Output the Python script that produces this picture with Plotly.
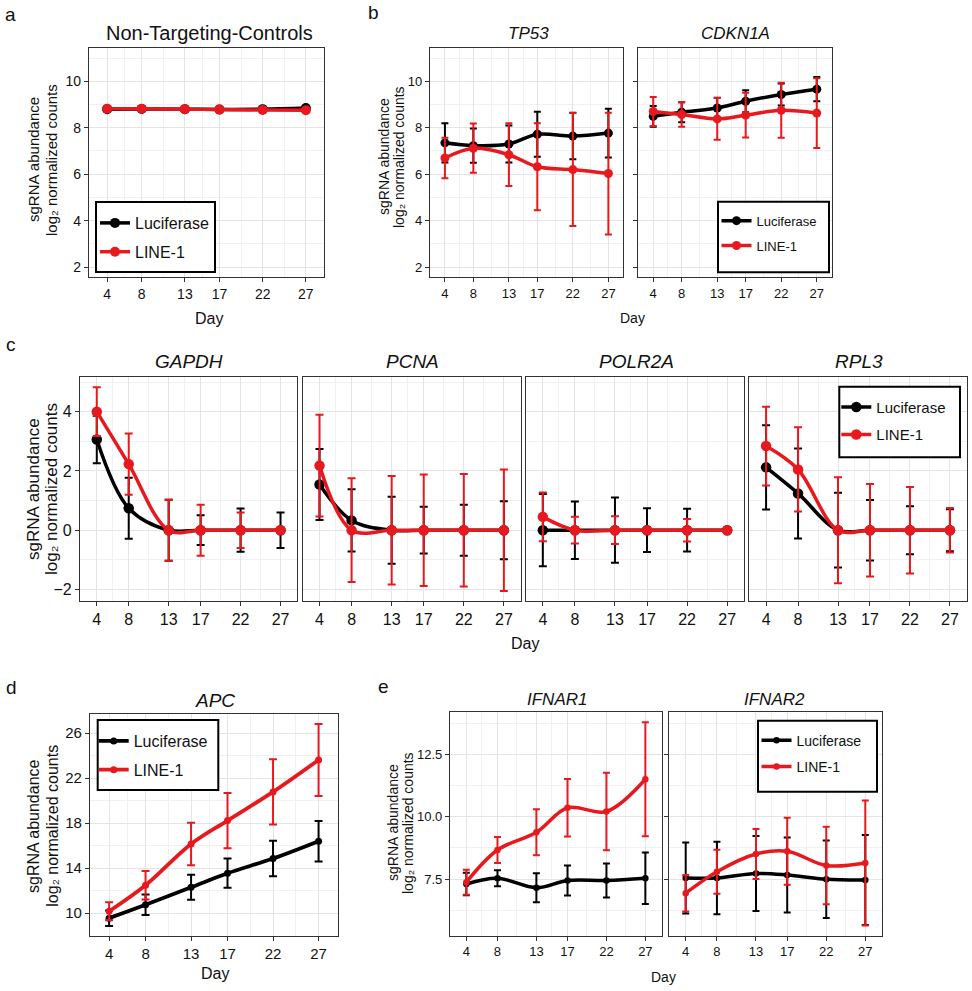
import plotly.graph_objects as go

W, H = 972, 991

# ---------------- data ----------------
days = [4, 8, 13, 17, 22, 27]
day_labels = ["4", "8", "13", "17", "22", "27"]
day_minor = [6, 10.5, 15, 19.5, 24.5]
series_names = ["Luciferase", "LINE-1"]

# a  Non-Targeting-Controls
ntc_luc = [8.80, 8.81, 8.80, 8.79, 8.80, 8.85]
ntc_luc_sd = [0.03, 0.03, 0.03, 0.03, 0.03, 0.03]
ntc_l1 = [8.82, 8.82, 8.80, 8.78, 8.76, 8.75]
ntc_l1_sd = [0.03, 0.03, 0.03, 0.03, 0.03, 0.03]

# b  TP53 / CDKN1A
tp53_luc = [7.35, 7.23, 7.30, 7.72, 7.64, 7.77]
tp53_luc_sd = [0.84, 0.74, 0.80, 0.97, 1.00, 1.05]
tp53_l1 = [6.70, 7.12, 6.84, 6.32, 6.20, 6.03]
tp53_l1_sd = [0.87, 1.06, 1.35, 1.87, 2.43, 2.62]
cdkn1a_luc = [8.49, 8.67, 8.85, 9.14, 9.43, 9.66]
cdkn1a_luc_sd = [0.45, 0.43, 0.44, 0.47, 0.47, 0.52]
cdkn1a_l1 = [8.70, 8.57, 8.38, 8.54, 8.75, 8.63]
cdkn1a_l1_sd = [0.62, 0.53, 0.90, 0.96, 1.18, 1.50]

# c  GAPDH / PCNA / POLR2A / RPL3
gapdh_luc = [3.06, 0.74, 0.0, 0.0, 0.0, 0.0]
gapdh_luc_sd = [0.80, 1.03, 1.03, 0.50, 0.73, 0.60]
gapdh_l1 = [4.00, 2.23, 0.0, 0.0, 0.0, 0.0]
gapdh_l1_sd = [0.82, 1.03, 1.03, 0.86, 0.60, 0.0]
pcna_luc = [1.54, 0.33, 0.0, 0.0, 0.0, 0.0]
pcna_luc_sd = [1.20, 1.05, 1.13, 0.79, 0.86, 0.98]
pcna_l1 = [2.18, 0.0, 0.0, 0.0, 0.0, 0.0]
pcna_l1_sd = [1.72, 1.75, 1.83, 1.88, 1.90, 2.05]
polr2a_luc = [0.0, 0.0, 0.0, 0.0, 0.0, 0.0]
polr2a_luc_sd = [1.22, 0.97, 1.10, 0.74, 0.72, 0.0]
polr2a_l1 = [0.45, 0.0, 0.0, 0.0, 0.0, 0.0]
polr2a_l1_sd = [0.82, 0.45, 0.47, 0.0, 0.38, 0.0]
rpl3_luc = [2.12, 1.24, 0.0, 0.0, 0.0, 0.0]
rpl3_luc_sd = [1.42, 1.52, 1.26, 1.02, 0.81, 0.71]
rpl3_l1 = [2.84, 2.05, 0.0, 0.0, 0.0, 0.0]
rpl3_l1_sd = [1.33, 1.42, 1.79, 1.56, 1.46, 0.75]

# d  APC
apc_luc = [9.56, 10.75, 12.30, 13.55, 14.86, 16.40]
apc_luc_sd = [0.69, 0.92, 1.11, 1.30, 1.58, 1.80]
apc_l1 = [10.17, 12.48, 16.15, 18.23, 20.78, 23.62]
apc_l1_sd = [0.80, 1.26, 1.88, 2.45, 2.90, 3.20]

# e  IFNAR1 / IFNAR2
ifnar1_luc = [7.31, 7.54, 7.16, 7.45, 7.45, 7.54]
ifnar1_luc_sd = [0.45, 0.32, 0.58, 0.60, 0.68, 1.03]
ifnar1_l1 = [7.38, 8.67, 9.38, 10.36, 10.21, 11.50]
ifnar1_l1_sd = [0.50, 0.52, 0.92, 1.15, 1.55, 2.28]
ifnar2_luc = [7.55, 7.55, 7.73, 7.67, 7.50, 7.47]
ifnar2_luc_sd = [1.42, 1.45, 1.50, 1.50, 1.55, 1.80]
ifnar2_l1 = [6.94, 7.80, 8.51, 8.62, 8.05, 8.15]
ifnar2_l1_sd = [0.73, 0.88, 1.00, 1.34, 1.55, 2.50]

# y tick sets
y_ab_ticks = [2, 4, 6, 8, 10]
y_ab_minor = [3, 5, 7, 9, 11]
y_c_ticks = [-2, 0, 2, 4]
y_c_labels = ["\u22122", "0", "2", "4"]
y_c_minor = [-1, 1, 3, 5]
y_d_ticks = [10, 14, 18, 22, 26]
y_d_minor = [12, 16, 20, 24]
y_e_ticks = [7.5, 10.0, 12.5]
y_e_labels = ["7.5", "10.0", "12.5"]
y_e_minor = [6.25, 8.75, 11.25, 13.75]

y_title_1 = "sgRNA abundance"
y_title_2 = "log\u2082 normalized counts"
x_title = "Day"

# ---------------- styling ----------------
BLACK = "#000000"
RED = "#E8191E"
FAM = "Liberation Sans, Arial, Helvetica, sans-serif"
AXC = "#333333"
GRID = "#E4E4E4"
GRID_MINOR = "#F1F1F1"
TXT = "#111111"


def fx(v):
    return v / W


def fy(v):
    return 1 - v / H


panels = [
    dict(title="Non-Targeting-Controls", italic=False, tx=209, ty=33, tfs=20,
         box=(89, 324, 48, 277), yr=[1.58, 11.43], yt=y_ab_ticks, ytl=[str(v) for v in y_ab_ticks],
         ym=y_ab_minor, ylab=True, yticks=True, tick=14,
         data=(ntc_luc, ntc_luc_sd, ntc_l1, ntc_l1_sd), ms=10, lw=3.5, cap=4,
         legend=dict(box=(96, 215, 202, 272), fs=16, dx=-1)),
    dict(title="TP53", italic=True, tx=528, ty=33, tfs=17,
         box=(430, 623.3, 48, 277), yr=[1.58, 11.43], yt=y_ab_ticks, ytl=[str(v) for v in y_ab_ticks],
         ym=y_ab_minor, ylab=True, yticks=True, tick=13,
         data=(tp53_luc, tp53_luc_sd, tp53_l1, tp53_l1_sd), ms=9, lw=3.5, cap=3.5, legend=None),
    dict(title="CDKN1A", italic=True, tx=735, ty=33, tfs=17,
         box=(638.3, 831.7, 48, 277), yr=[1.58, 11.43], yt=y_ab_ticks, ytl=[str(v) for v in y_ab_ticks],
         ym=y_ab_minor, ylab=False, yticks=True, tick=13,
         data=(cdkn1a_luc, cdkn1a_luc_sd, cdkn1a_l1, cdkn1a_l1_sd), ms=9, lw=3.5, cap=3.5,
         legend=dict(box=(718, 829, 201.7, 272.3), fs=13, dx=-1.5)),
    dict(title="GAPDH", italic=True, tx=189, ty=362, tfs=19,
         box=(80, 297.3, 377.3, 600.7), yr=[-2.38, 5.16], yt=y_c_ticks, ytl=y_c_labels,
         ym=y_c_minor, ylab=True, yticks=True, tick=16,
         data=(gapdh_luc, gapdh_luc_sd, gapdh_l1, gapdh_l1_sd), ms=10.5, lw=3.5, cap=4, legend=None),
    dict(title="PCNA", italic=True, tx=412, ty=362, tfs=19,
         box=(302.7, 520.7, 377.3, 600.7), yr=[-2.38, 5.16], yt=y_c_ticks, ytl=y_c_labels,
         ym=y_c_minor, ylab=False, yticks=False, tick=16,
         data=(pcna_luc, pcna_luc_sd, pcna_l1, pcna_l1_sd), ms=10.5, lw=3.5, cap=4, legend=None),
    dict(title="POLR2A", italic=True, tx=636, ty=362, tfs=19,
         box=(526, 744, 377.3, 600.7), yr=[-2.38, 5.16], yt=y_c_ticks, ytl=y_c_labels,
         ym=y_c_minor, ylab=False, yticks=False, tick=16,
         data=(polr2a_luc, polr2a_luc_sd, polr2a_l1, polr2a_l1_sd), ms=10.5, lw=3.5, cap=4, legend=None),
    dict(title="RPL3", italic=True, tx=859, ty=362, tfs=19,
         box=(749.3, 966.7, 377.3, 600.7), yr=[-2.38, 5.16], yt=y_c_ticks, ytl=y_c_labels,
         ym=y_c_minor, ylab=False, yticks=False, tick=16,
         data=(rpl3_luc, rpl3_luc_sd, rpl3_l1, rpl3_l1_sd), ms=10.5, lw=3.5, cap=4,
         legend=dict(box=(839.3, 960, 386.7, 457.3), fs=15, dx=-3)),
    dict(title="APC", italic=True, tx=215, ty=700, tfs=19,
         box=(90, 337.7, 714, 935.7), yr=[8.0, 27.7], yt=y_d_ticks, ytl=[str(v) for v in y_d_ticks],
         ym=y_d_minor, ylab=True, yticks=True, tick=15,
         data=(apc_luc, apc_luc_sd, apc_l1, apc_l1_sd), ms=7, lw=3.8, cap=4,
         legend=dict(box=(97.7, 218.3, 720, 790), fs=16, dx=-4)),
    dict(title="IFNAR1", italic=True, tx=557, ty=699, tfs=17,
         box=(450, 661.7, 712.3, 935.7), yr=[5.24, 14.18], yt=y_e_ticks, ytl=y_e_labels,
         ym=y_e_minor, ylab=True, yticks=True, tick=13,
         data=(ifnar1_luc, ifnar1_luc_sd, ifnar1_l1, ifnar1_l1_sd), ms=6.5, lw=3.5, cap=3.5, legend=None),
    dict(title="IFNAR2", italic=True, tx=774, ty=699, tfs=17,
         box=(669.3, 881.7, 712.3, 935.7), yr=[5.24, 14.18], yt=y_e_ticks, ytl=y_e_labels,
         ym=y_e_minor, ylab=False, yticks=True, tick=13,
         data=(ifnar2_luc, ifnar2_luc_sd, ifnar2_l1, ifnar2_l1_sd), ms=6.5, lw=3.5, cap=3.5,
         legend=dict(box=(758, 877, 720.7, 791.7), fs=14, dx=-1.5)),
]

fig = go.Figure()
layout = dict(width=W, height=H, autosize=False, margin=dict(l=0, r=0, t=0, b=0),
              paper_bgcolor="white", plot_bgcolor="white",
              font=dict(family=FAM, color=TXT))
annotations = []
shapes = []
legend_count = 0

for i, p in enumerate(panels):
    n = i + 1
    xa = "xaxis" if n == 1 else f"xaxis{n}"
    ya = "yaxis" if n == 1 else f"yaxis{n}"
    xr = "x" if n == 1 else f"x{n}"
    yr_ = "y" if n == 1 else f"y{n}"
    x0, x1, y0, y1 = p["box"]
    common = dict(showline=True, mirror=True, linecolor=AXC, linewidth=1.2,
                  showgrid=True, gridcolor=GRID, gridwidth=1.1, zeroline=False,
                  ticks="outside", ticklen=4, tickwidth=1.1, tickcolor=AXC,
                  fixedrange=True, layer="below traces")
    layout[xa] = dict(common, domain=[fx(x0), fx(x1)], range=[1.9, 29.1], anchor=yr_,
                      tickmode="array", tickvals=days, ticktext=day_labels,
                      tickfont=dict(size=p["tick"], family=FAM, color=TXT),
                      minor=dict(tickvals=day_minor, showgrid=True, gridcolor=GRID_MINOR,
                                 gridwidth=0.7, ticks=""))
    ycfg = dict(common, domain=[fy(y1), fy(y0)], range=p["yr"], anchor=xr,
                tickmode="array", tickvals=p["yt"], ticktext=p["ytl"],
                showticklabels=p["ylab"],
                tickfont=dict(size=p["tick"], family=FAM, color=TXT),
                minor=dict(tickvals=p["ym"], showgrid=True, gridcolor=GRID_MINOR,
                           gridwidth=0.7, ticks=""))
    if not p["yticks"]:
        ycfg["ticks"] = ""
    layout[ya] = ycfg

    luc, luc_sd, l1, l1_sd = p["data"]
    lg = p["legend"]
    if lg is not None:
        legend_count += 1
        lname = "legend" if legend_count == 1 else f"legend{legend_count}"
    for name, vals, sd, col in ((series_names[0], luc, luc_sd, BLACK),
                                (series_names[1], l1, l1_sd, RED)):
        tr = go.Scatter(
            x=days, y=vals, name=name, xaxis=xr, yaxis=yr_,
            mode="lines+markers",
            line=dict(color=col, width=p["lw"], shape="spline", smoothing=1.0),
            marker=dict(color=col, size=p["ms"]),
            error_y=dict(type="data", array=sd, visible=True, color=col,
                         thickness=2, width=p["cap"]),
            showlegend=lg is not None, legendgroup=name,
            cliponaxis=False,
        )
        if lg is not None:
            tr.legend = lname
        fig.add_trace(tr)

    if lg is not None:
        bx0, bx1, by0, by1 = lg["box"]
        shapes.append(dict(type="rect", xref="paper", yref="paper",
                           x0=fx(bx0), x1=fx(bx1), y0=fy(by1), y1=fy(by0),
                           line=dict(color="black", width=2), fillcolor="white",
                           layer="above"))
        layout[lname] = dict(x=fx(bx0 + lg["dx"]), y=fy(by0 + 4), xanchor="left", yanchor="top",
                             bgcolor="rgba(0,0,0,0)", borderwidth=0,
                             font=dict(size=lg["fs"], family=FAM, color=TXT),
                             tracegroupgap=5, itemwidth=30, traceorder="grouped")

    annotations.append(dict(text=p["title"], x=fx(p["tx"]), y=fy(p["ty"]), xref="paper", yref="paper",
                            showarrow=False, xanchor="center", yanchor="middle",
                            font=dict(size=p["tfs"], family=FAM, color=TXT,
                                      style="italic" if p["italic"] else "normal")))

# y-axis titles (two lines each)
ytitles = [
    (34, 52, 160, 15),
    (384, 399, 157, 14),
    (33, 51, 489, 17),
    (33, 51.7, 826, 16),
    (393, 408, 823, 14),
]
for xa1, xa2, yc, fs in ytitles:
    annotations.append(dict(text=y_title_1, x=fx(xa1), y=fy(yc), xref="paper", yref="paper",
                            showarrow=False, textangle=-90, xanchor="center", yanchor="middle",
                            font=dict(size=fs, family=FAM, color=TXT)))
    annotations.append(dict(text=y_title_2, x=fx(xa2), y=fy(yc),
                            xref="paper", yref="paper", showarrow=False, textangle=-90,
                            xanchor="center", yanchor="middle",
                            font=dict(size=fs, family=FAM, color=TXT)))

# x-axis titles
for xc, yc, fs in [(209, 318, 16), (632, 318, 14), (525, 643, 16),
                   (215, 973, 16), (663, 977, 14)]:
    annotations.append(dict(text=x_title, x=fx(xc), y=fy(yc), xref="paper", yref="paper",
                            showarrow=False, xanchor="center", yanchor="middle",
                            font=dict(size=fs, family=FAM, color=TXT)))

# panel letters
for lt, xc, yc in [("a", 10, 15), ("b", 373, 13), ("c", 11, 345), ("d", 11, 687), ("e", 383, 686)]:
    annotations.append(dict(text=lt, x=fx(xc), y=fy(yc), xref="paper", yref="paper",
                            showarrow=False, xanchor="center", yanchor="middle",
                            font=dict(size=19, family=FAM, color=TXT)))

layout["annotations"] = annotations
layout["shapes"] = shapes
fig.update_layout(**layout)
fig.write_html("out.html", config={"displayModeBar": False},
               post_script="document.body.style.margin='0px';document.body.style.overflow='hidden';")
